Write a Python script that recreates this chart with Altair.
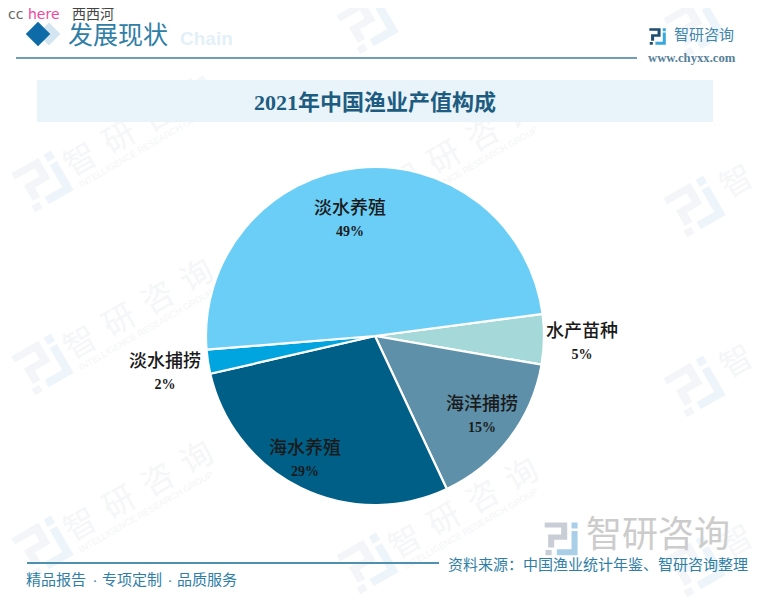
import altair as alt
import pandas as pd

# ---- chart values
CATEGORIES = ["水产苗种", "海洋捕捞", "海水养殖", "淡水捕捞", "淡水养殖"]
SHARES = [4.8, 15.3, 28.4, 2.3, 49.2]
PERCENT_LABELS = ["5%", "15%", "29%", "2%", "49%"]
SLICE_COLORS = ["#A5D8D8", "#5E90A9", "#005F87", "#00A5DF", "#6BCEF7"]
TITLE = "2021年中国渔业产值构成"

# ---- layout, kept apart from the values (page pixels minus the 8px margin)
M = 8
LABEL_XY = [(582, 332), (482, 405), (305, 449), (165, 362), (350, 209)]
CX, CY, R = 375 - M, 336 - M, 169
START = 82.5 * 3.14159265 / 180
CJK = "Noto Sans CJK SC"
SERIF = f"Liberation Serif, {CJK}"

df = pd.DataFrame({
    "cat": CATEGORIES, "share": SHARES, "pct": PERCENT_LABELS,
    "order": list(range(len(CATEGORIES))),
    "lx": [p[0] - M for p in LABEL_XY], "ly": [p[1] - M for p in LABEL_XY],
})
df["py"] = df["ly"] + 23

PX = lambda f: alt.X(f, scale=None, axis=None)
PY = lambda f: alt.Y(f, scale=None, axis=None)


def text(s, x, y, size, color, font=CJK, weight="normal", align="left", angle=0):
    kw = {"angle": angle} if angle else {}
    return alt.Chart(pd.DataFrame({"t": [s]})).mark_text(
        fontSize=size, color=color, font=font, fontWeight=weight, align=align,
        baseline="middle", **kw
    ).encode(text="t:N", x=alt.value(x - M), y=alt.value(y - M))


def rule(x1, x2, y, color, w):
    return alt.Chart(pd.DataFrame({"a": [0]})).mark_rule(color=color, strokeWidth=w).encode(
        x=alt.value(x1 - M), x2=alt.value(x2 - M), y=alt.value(y - M))


def rect(x1, x2, y1, y2, color):
    return alt.Chart(pd.DataFrame({"a": [0]})).mark_rect(color=color).encode(
        x=alt.value(x1 - M), x2=alt.value(x2 - M), y=alt.value(y1 - M), y2=alt.value(y2 - M))


def symbol(path, x, y, size, color, angle=0):
    return alt.Chart(pd.DataFrame({"a": [0]})).mark_point(
        shape=path, size=size, filled=True, color=color, opacity=1, angle=angle, strokeWidth=0
    ).encode(x=alt.value(x - M), y=alt.value(y - M))


LOGO_L = "M-1 -.9H.3V.1H-.45V.55H-.8V-.2H-.05V-.6H-1ZM-.95 .7H-.6V1H-.95Z"
LOGO_R = "M.55 -.9H.9V-.55H.55ZM.55 -.4H.9V1H-.3V.65H.55Z"
DIAMOND = "M0 -1L1 0L0 1L-1 0Z"

layers = []

# watermarks: logo plus text where the whole text fits, logo plus first glyph near the edges
WM_FULL = [(43, 180), (43, 363), (43, 545), (368, 200), (368, 385), (368, 562)]
WM_EDGE = [(368, 22), (695, 25), (695, 205), (695, 385), (695, 565)]
HS = "\u2009\u2009"
for wx, wy in WM_FULL + WM_EDGE:
    layers.append(symbol(LOGO_L, wx, wy, 2300, "#f3f5f8", 330))
    layers.append(symbol(LOGO_R, wx, wy, 2300, "#edf5fb", 330))
for wx, wy in WM_FULL:
    layers.append(text(HS.join("智研咨询"), wx + 96, wy - 53, 32, "#f5f6f7", align="center", angle=330))
    layers.append(text("INTELLIGENCE RESEARCH GROUP", wx + 103, wy - 33, 9, "#f4f5f6",
                       font="Liberation Sans", align="center", angle=330))
for wx, wy in WM_EDGE[2:]:
    layers.append(text("智", wx + 42, wy - 23, 32, "#f5f6f7", align="center", angle=330))

# header
layers += [
    symbol(DIAMOND, 49, 34, 520, "#d3e5f0"),
    symbol(DIAMOND, 38, 34, 600, "#0E6BA8"),
    text("Chain", 180, 39, 19, "#e3f0f8", font="Liberation Sans", weight="bold"),
    text("发展现状", 68, 36, 25, "#2f7ea6"),
    rule(16, 637, 58, "#6f9fb8", 2),
    symbol(LOGO_L, 658, 36, 300, "#1d4e70"),
    symbol(LOGO_R, 658, 36, 300, "#38a7dc"),
    text("智研咨询", 674, 35, 15, "#3f86ad"),
    text("www.chyxx.com", 648, 58, 12.7, "#557f99", font="Liberation Serif", weight="bold"),
    text("cc", 8, 15, 14, "#666666", font="DejaVu Sans"),
    text("here", 28, 15, 14, "#f0489e", font="DejaVu Sans"),
    text("西西河", 72, 15, 14, "#444444"),
    rect(37, 713, 80, 122, "#E8F3FA"),
    text(TITLE, 375, 103, 22, "#1d5c80", font=SERIF, weight="bold", align="center"),
]

# pie
base = alt.Chart(df)
pie = base.mark_arc(radius=R, stroke="white", strokeWidth=2.2).encode(
    theta=alt.Theta("share:Q", stack=True,
                    scale=alt.Scale(range=[START, START + 2 * 3.14159265])),
    order=alt.Order("order:Q"),
    color=alt.Color("cat:N", scale=alt.Scale(domain=CATEGORIES, range=SLICE_COLORS), legend=None),
    x=alt.value(CX), y=alt.value(CY),
)
names = base.mark_text(fontSize=18, color="#1a1a1a", font=SERIF, fontWeight=500, baseline="middle").encode(
    x=PX("lx:Q"), y=PY("ly:Q"), text="cat:N")
pcts = base.mark_text(fontSize=14, color="#1a1a1a", font=SERIF, fontWeight="bold", baseline="middle").encode(
    x=PX("lx:Q"), y=PY("py:Q"), text="pct:N")
layers += [pie, names, pcts]

# footer
layers += [
    symbol(LOGO_L, 562, 538, 1200, "#c8cdd6"),
    symbol(LOGO_R, 562, 538, 1200, "#a9cfe8"),
    text("智研咨询", 586, 536, 36, "#cccccc"),
    rule(27, 439, 563, "#4f8fb0", 2),
    text("精品报告", 26, 580, 15, "#2f7ea6"),
    text("·", 95, 580, 15, "#2f7ea6", font="Liberation Sans", align="center"),
    text("专项定制", 102, 580, 15, "#2f7ea6"),
    text("·", 170, 580, 15, "#2f7ea6", font="Liberation Sans", align="center"),
    text("品质服务", 177, 580, 15, "#2f7ea6"),
    text("资料来源：中国渔业统计年鉴、智研咨询整理", 448, 565, 15, "#2f7ea6"),
]

chart = alt.layer(*layers).properties(
    width=754, height=590, padding=0, background="white",
    autosize=alt.AutoSizeParams(type="none"),
).configure_view(stroke=None).resolve_scale(color="independent", theta="independent")

chart.save("out.html", embed_options={"renderer": "svg", "actions": False})
